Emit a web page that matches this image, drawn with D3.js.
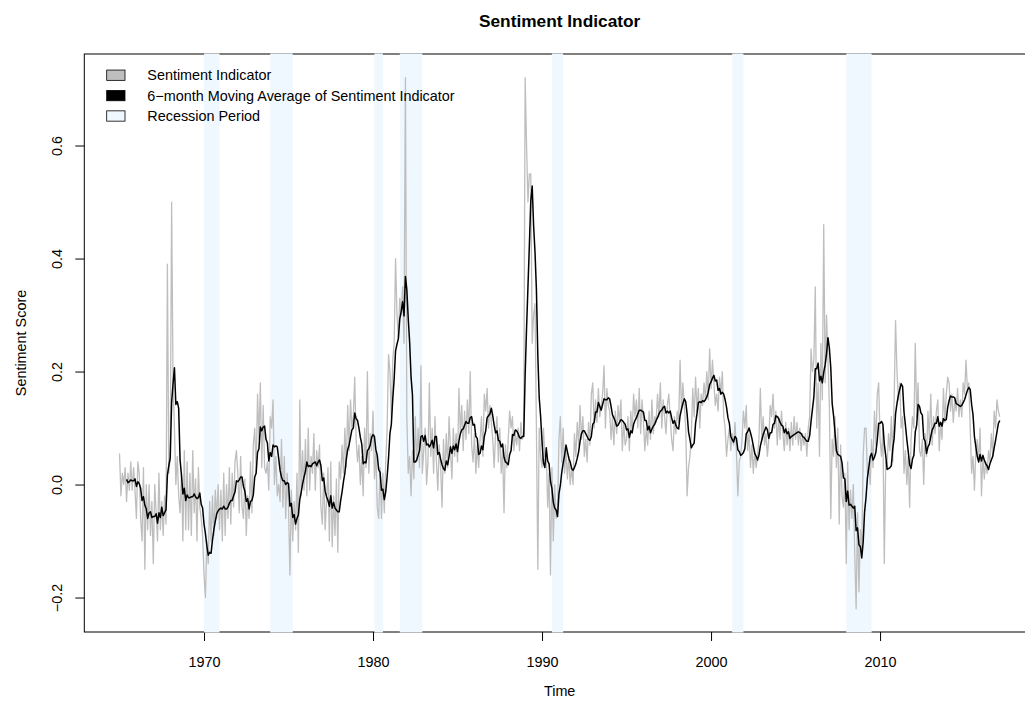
<!DOCTYPE html>
<html>
<head>
<meta charset="utf-8">
<script src="https://cdn.jsdelivr.net/npm/d3@7"></script>
<style>
  body { margin: 0; background: #ffffff; }
  svg text { font-family: "Liberation Sans", Arial, Helvetica, sans-serif; }
</style>
</head>
<body>
<svg id="chart" width="1025" height="710"></svg>
<script>
// ---------------- data (monthly, starting January 1965) ----------------
const seriesStartYear = 1965;
const monthsPerYear = 12;
const maWindow = 6;

const sentiment = [
  0.055, -0.02, 0.02, 0.00, 0.03, -0.03, 0.02, -0.01, 0.04, -0.01, 0.03, -0.01,   // 1965
  -0.06, 0.04, 0.02, -0.06, -0.10, 0.03, -0.15, 0.00, -0.08, 0.00, -0.09, -0.03,  // 1966
  -0.14, 0.00, -0.05, -0.10, 0.02, -0.08, -0.03, -0.09, -0.02, -0.07, 0.39, 0.02, // 1967
  0.05, 0.50, 0.18, 0.10, 0.00, 0.05, -0.02, -0.05, 0.02, -0.10, 0.06, -0.08,     // 1968
  0.04, -0.08, 0.02, -0.09, 0.06, -0.05, 0.01, -0.10, 0.03, -0.04, -0.06, -0.09,  // 1969
  -0.16, -0.20, -0.10, -0.14, -0.03, -0.10, -0.02, -0.09, -0.01, -0.06, 0.00, -0.08, // 1970
  -0.01, -0.10, 0.02, -0.09, 0.00, -0.06, 0.03, -0.07, 0.02, -0.04, 0.04, 0.06,   // 1971
  0.02, -0.05, 0.05, -0.04, -0.06, 0.01, -0.09, -0.02, -0.06, 0.04, -0.05, 0.07,  // 1972
  0.10, 0.02, 0.16, 0.08, 0.18, 0.03, 0.14, 0.03, 0.02, 0.04, -0.01, 0.12,        // 1973
  0.10, 0.15, 0.00, 0.05, -0.02, 0.00, -0.03, 0.08, -0.04, 0.05, -0.06, 0.02,     // 1974
  -0.04, -0.16, -0.01, -0.10, -0.03, -0.08, 0.02, -0.12, 0.15, -0.02, 0.06, -0.01, // 1975
  0.08, -0.02, 0.10, -0.01, 0.05, 0.02, 0.09, -0.01, 0.06, 0.03, 0.07, -0.04,     // 1976
  -0.07, 0.02, -0.08, -0.03, 0.03, -0.10, 0.04, -0.11, -0.02, -0.09, 0.01, -0.12, // 1977
  0.04, 0.01, 0.07, 0.02, 0.10, 0.03, 0.14, 0.06, 0.15, 0.10, 0.12, 0.19,         // 1978
  0.08, 0.04, 0.07, 0.00, 0.05, -0.02, 0.10, 0.03, 0.20, 0.02, 0.09, 0.06,        // 1979
  0.13, 0.01, 0.06, -0.04, -0.06, 0.03, -0.06, 0.02, -0.05, 0.04, 0.10, 0.23,     // 1980
  0.20, 0.12, 0.22, 0.25, 0.40, 0.30, 0.26, 0.33, 0.30, 0.35, 0.25, 0.72,         // 1981
  0.12, 0.02, 0.05, -0.02, 0.06, 0.01, 0.12, 0.04, 0.10, 0.03, 0.21, 0.02,        // 1982
  0.06, 0.10, 0.00, 0.04, 0.18, 0.05, 0.10, 0.02, 0.12, 0.04, -0.01, 0.07,        // 1983
  0.03, -0.04, 0.08, 0.02, 0.09, 0.03, 0.12, 0.06, 0.01, 0.10, 0.05, 0.09,        // 1984
  0.04, 0.17, 0.09, 0.14, 0.06, 0.13, 0.08, 0.15, 0.09, 0.20, 0.07, 0.04,         // 1985
  0.09, 0.02, 0.07, 0.03, 0.08, 0.12, 0.05, 0.16, 0.13, 0.17, 0.10, 0.14,         // 1986
  0.11, 0.08, 0.03, 0.09, 0.12, 0.04, 0.10, 0.02, 0.06, -0.05, 0.07, 0.03,        // 1987
  0.08, 0.13, 0.10, 0.12, 0.06, 0.09, 0.07, 0.10, 0.06, 0.11, 0.08, 0.09,         // 1988
  0.72, 0.60, 0.50, 0.55, 0.55, 0.25, 0.30, 0.32, 0.10, -0.15, 0.10, 0.05,        // 1989
  0.03, 0.10, 0.05, 0.06, -0.04, 0.02, -0.16, 0.03, -0.10, 0.00, -0.06, -0.05,    // 1990
  0.08, 0.12, 0.04, 0.10, 0.02, 0.06, 0.01, 0.05, 0.00, 0.03, 0.00, 0.09,         // 1991
  0.05, 0.11, 0.07, 0.14, 0.08, 0.12, 0.05, 0.08, 0.04, 0.11, 0.07, 0.16,         // 1992
  0.18, 0.10, 0.15, 0.11, 0.17, 0.12, 0.14, 0.16, 0.21, 0.10, 0.17, 0.14,         // 1993
  0.13, 0.08, 0.12, 0.07, 0.13, 0.09, 0.14, 0.11, 0.15, 0.06, 0.11, 0.07,         // 1994
  0.08, 0.12, 0.06, 0.13, 0.09, 0.16, 0.12, 0.15, 0.10, 0.17, 0.09, 0.15,         // 1995
  0.11, 0.06, 0.10, 0.07, 0.13, 0.08, 0.15, 0.09, 0.12, 0.11, 0.16, 0.12,         // 1996
  0.18, 0.10, 0.15, 0.12, 0.09, 0.14, 0.16, 0.12, 0.08, 0.06, 0.12, 0.09,         // 1997
  0.13, 0.11, 0.22, 0.13, 0.18, 0.14, 0.10, -0.02, 0.03, 0.05, 0.09, 0.17,        // 1998
  0.12, 0.19, 0.13, 0.17, 0.10, 0.16, 0.14, 0.18, 0.15, 0.20, 0.15, 0.24,         // 1999
  0.17, 0.22, 0.18, 0.14, 0.16, 0.13, 0.19, 0.16, 0.20, 0.12, 0.10, 0.05,         // 2000
  0.08, 0.10, 0.06, 0.09, 0.07, 0.11, 0.06, -0.02, 0.04, 0.05, 0.08, 0.13,        // 2001
  0.10, 0.14, 0.06, 0.09, 0.03, 0.07, 0.02, 0.06, 0.03, 0.05, 0.08, 0.17,         // 2002
  0.08, 0.12, 0.07, 0.09, 0.05, 0.08, 0.14, 0.12, 0.16, 0.10, 0.13, 0.07,         // 2003
  0.12, 0.08, 0.13, 0.09, 0.06, 0.11, 0.07, 0.10, 0.06, 0.11, 0.07, 0.12,         // 2004
  0.08, 0.11, 0.07, 0.10, 0.06, 0.09, 0.07, 0.09, 0.05, 0.10, 0.12, 0.24,         // 2005
  0.20, 0.22, 0.35, 0.10, 0.18, 0.05, 0.25, 0.15, 0.46, 0.18, 0.30, 0.22,         // 2006
  0.14, -0.06, 0.08, 0.05, 0.12, 0.03, 0.10, -0.07, 0.07, -0.02, -0.04, 0.02,     // 2007
  -0.14, 0.04, -0.08, -0.01, -0.06, 0.00, -0.12, -0.22, -0.05, -0.19, -0.08, -0.12, // 2008
  0.05, 0.10, 0.10, 0.02, 0.03, 0.00, 0.08, 0.03, 0.13, 0.07, 0.16, 0.18,         // 2009
  0.08, 0.05, 0.10, -0.14, 0.04, 0.03, 0.09, 0.06, 0.12, 0.04, 0.15, 0.29,        // 2010
  0.20, 0.15, 0.18, 0.10, 0.12, 0.02, 0.06, 0.00, 0.05, -0.04, 0.08, 0.12,        // 2011
  0.10, 0.25, 0.12, 0.18, 0.06, 0.05, 0.08, 0.00, 0.09, 0.05, 0.13, 0.08,         // 2012
  0.16, 0.07, 0.12, 0.09, 0.13, 0.15, 0.06, 0.11, 0.08, 0.17, 0.11, 0.16,         // 2013
  0.19, 0.18, 0.13, 0.16, 0.11, 0.15, 0.13, 0.17, 0.12, 0.15, 0.12, 0.18,         // 2014
  0.16, 0.22, 0.17, 0.18, 0.10, 0.02, 0.05, -0.01, 0.06, 0.08, 0.04, 0.10,        // 2015
  -0.02, 0.05, 0.01, 0.04, 0.02, 0.06, 0.04, 0.09, 0.05, 0.13, 0.10, 0.15,        // 2016
  0.13, 0.12                                                                      // 2017
];

// NBER recession periods (year-month)
const recessionStart = ["1969-12", "1973-11", "1980-01", "1981-07", "1990-07", "2001-03", "2007-12"];
const recessionEnd   = ["1970-11", "1975-03", "1980-07", "1982-11", "1991-03", "2001-11", "2009-06"];

const xTickValues = [1970, 1980, 1990, 2000, 2010];
const yTickValues = [-0.2, 0.0, 0.2, 0.4, 0.6];

const legendLabels = ["Sentiment Indicator", "6\u2212month Moving Average of Sentiment Indicator", "Recession Period"];
const legendFills  = ["#bebebe", "#000000", "#f0f8ff"];

const chartTitle = "Sentiment Indicator";
const xTitle = "Time";
const yTitle = "Sentiment Score";

// ---------------- layout ----------------
const plot = { left: 84.3, right: 1035, top: 54, bottom: 632 };
const fontSize = 14.4;

const svg = d3.select("#chart");

const times = sentiment.map((v, i) => seriesStartYear + i / monthsPerYear);
const series = sentiment.map((v, i) => ({ t: times[i], v }));
const movingAvg = d3.range(maWindow - 1, sentiment.length).map(i => ({
  t: times[i],
  v: d3.mean(sentiment.slice(i - maWindow + 1, i + 1))
}));

const t0 = times[0], t1 = times[times.length - 1];
const xPad = (t1 - t0) * 0.04;
const x = d3.scaleLinear().domain([t0 - xPad, t1 + xPad]).range([plot.left, plot.right]);
const y = d3.scaleLinear().domain([-0.261, 0.762]).range([plot.bottom, plot.top]);

const ym = s => { const [yy, mm] = s.split("-").map(Number); return yy + mm / 12; };

// ---------------- box ----------------
svg.append("rect")
  .attr("x", plot.left).attr("y", plot.top)
  .attr("width", plot.right - plot.left).attr("height", plot.bottom - plot.top)
  .attr("fill", "none").attr("stroke", "#000").attr("stroke-width", 1);

// ---------------- axes ----------------
const xAxis = svg.append("g")
  .attr("transform", `translate(0,${plot.bottom})`)
  .call(d3.axisBottom(x).tickValues(xTickValues).tickFormat(d3.format("d")).tickSize(9).tickSizeOuter(0));
xAxis.select(".domain").remove();
xAxis.selectAll("line").attr("stroke", "#000");
xAxis.selectAll("text")
  .attr("y", 35.3).attr("dy", null)
  .attr("fill", "#000")
  .style("font-size", fontSize + "px")
  .style("font-family", '"Liberation Sans", Arial, Helvetica, sans-serif');

const yAxis = svg.append("g")
  .attr("transform", `translate(${plot.left},0)`)
  .call(d3.axisLeft(y).tickValues(yTickValues).tickFormat(d3.format(".1f")).tickSize(9).tickSizeOuter(0));
yAxis.select(".domain").remove();
yAxis.selectAll("line").attr("stroke", "#000");
yAxis.selectAll("text")
  .attr("x", null).attr("dy", null)
  .attr("transform", "translate(-22.6,0) rotate(-90)")
  .attr("text-anchor", "middle")
  .attr("fill", "#000")
  .style("font-size", fontSize + "px")
  .style("font-family", '"Liberation Sans", Arial, Helvetica, sans-serif');

// ---------------- recession rectangles ----------------
svg.append("g").selectAll("rect")
  .data(recessionStart.map((s, i) => ({ s: ym(s), e: ym(recessionEnd[i]) })))
  .join("rect")
  .attr("x", d => x(d.s))
  .attr("width", d => x(d.e) - x(d.s))
  .attr("y", plot.top - 0.5)
  .attr("height", plot.bottom - plot.top + 1)
  .attr("fill", "#f0f8ff");

// ---------------- lines ----------------
const line = d3.line().x(d => x(d.t)).y(d => y(d.v));

svg.append("path")
  .datum(series)
  .attr("d", line)
  .attr("fill", "none")
  .attr("stroke", "#bebebe")
  .attr("stroke-width", 1.3)
  .attr("stroke-linejoin", "round");

svg.append("path")
  .datum(movingAvg)
  .attr("d", line)
  .attr("fill", "none")
  .attr("stroke", "#000")
  .attr("stroke-width", 1.5)
  .attr("stroke-linejoin", "round");

// ---------------- legend ----------------
const legendRowY = [75.2, 95.6, 116];
const lg = svg.append("g");
legendLabels.forEach((lab, i) => {
  lg.append("rect")
    .attr("x", 106.7).attr("y", legendRowY[i] - 5.15)
    .attr("width", 18.3).attr("height", 10.3)
    .attr("fill", legendFills[i])
    .attr("stroke", "#000").attr("stroke-width", 0.8);
  lg.append("text")
    .attr("x", 147.3).attr("y", legendRowY[i] + 5.1)
    .style("font-size", fontSize + "px")
    .attr("fill", "#000")
    .text(lab);
});

// ---------------- titles ----------------
const cx = (plot.left + plot.right) / 2;
svg.append("text")
  .attr("x", cx).attr("y", 27)
  .attr("text-anchor", "middle")
  .style("font-size", "17.3px").style("font-weight", "bold")
  .text(chartTitle);

svg.append("text")
  .attr("x", cx).attr("y", 696)
  .attr("text-anchor", "middle")
  .style("font-size", fontSize + "px")
  .text(xTitle);

svg.append("text")
  .attr("transform", `translate(25.5,${(plot.top + plot.bottom) / 2}) rotate(-90)`)
  .attr("text-anchor", "middle")
  .style("font-size", fontSize + "px")
  .text(yTitle);
</script>
</body>
</html>
